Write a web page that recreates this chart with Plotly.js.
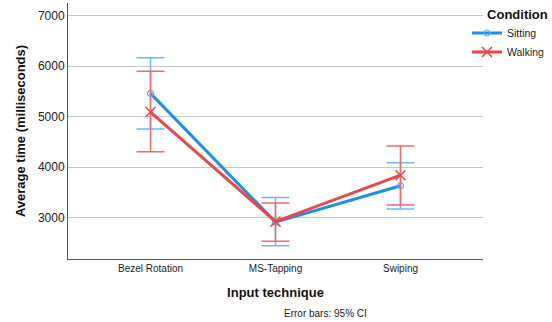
<!DOCTYPE html>
<html><head><meta charset="utf-8">
<script src="https://cdn.plot.ly/plotly-3.0.1.min.js"></script>
<style>body{margin:0;background:#fff}#c{width:552px;height:322px}</style>
</head><body><div id="c"></div>
<script>
const categories = ["Bezel Rotation", "MS-Tapping", "Swiping"];
const sittingMean = [5460, 2910, 3630];
const sittingUpper = [6165, 3400, 4085];
const sittingLower = [4755, 2440, 3170];
const walkingMean = [5090, 2920, 3840];
const walkingUpper = [5900, 3290, 4420];
const walkingLower = [4305, 2530, 3250];

function plus(u, m) { return u.map((v, i) => v - m[i]); }
function minus(l, m) { return l.map((v, i) => m[i] - v); }

const traces = [
  {
    x: categories, y: sittingMean, name: "Sitting", type: "scatter", mode: "lines+markers",
    line: {color: "#1e8ee6", width: 3},
    marker: {symbol: "circle-open", size: 6, color: "#5aaef0", line: {width: 1.2}},
    error_y: {type: "data", symmetric: false, array: plus(sittingUpper, sittingMean),
      arrayminus: minus(sittingLower, sittingMean), color: "#6ab9f2", thickness: 1.5, width: 14}
  },
  {
    x: categories, y: walkingMean, name: "Walking", type: "scatter", mode: "lines+markers",
    line: {color: "#e8474b", width: 3},
    marker: {symbol: "x-thin-open", size: 10, color: "#e8474b", line: {width: 1.5, color: "#e8474b"}},
    error_y: {type: "data", symmetric: false, array: plus(walkingUpper, walkingMean),
      arrayminus: minus(walkingLower, walkingMean), color: "#ef6a6d", thickness: 1.5, width: 14}
  }
];

const layout = {
  width: 552, height: 322,
  margin: {l: 68, r: 69, t: 3, b: 63, autoexpand: false},
  paper_bgcolor: "#fff", plot_bgcolor: "#fff",
  font: {family: "Liberation Sans, Arial, sans-serif", color: "#222"},
  showlegend: true,
  legend: {
    xref: "container", yref: "container",
    x: 0.846, y: 0.995, xanchor: "left", yanchor: "top",
    title: {text: "\u00a0\u00a0\u00a0\u00a0\u00a0<b>Condition</b>", font: {size: 13, color: "#111"}},
    font: {size: 10.5, color: "#222"}, tracegroupgap: 0, itemwidth: 30,
    bgcolor: "rgba(0,0,0,0)", borderwidth: 0
  },
  xaxis: {
    type: "category", range: [-0.66, 2.66],
    showgrid: false, zeroline: false,
    showline: true, linecolor: "#555", linewidth: 1,
    ticks: "", tickfont: {size: 10, color: "#222"},
    title: {text: "<b>Input technique</b>", font: {size: 13, color: "#111"}, standoff: 14}
  },
  yaxis: {
    range: [2180, 7250],
    tickvals: [3000, 4000, 5000, 6000, 7000],
    showgrid: true, gridcolor: "#c8c8c8", gridwidth: 1, zeroline: false,
    showline: true, linecolor: "#555", linewidth: 1,
    ticks: "", tickfont: {size: 12, color: "#222"},
    title: {text: "<b>Average time (milliseconds)</b>", font: {size: 13, color: "#111"}, standoff: 9}
  },
  annotations: [{
    text: "Error bars: 95% CI", xref: "paper", yref: "paper",
    x: 0.62, y: -0.211, xanchor: "center", yanchor: "middle",
    showarrow: false, font: {size: 10, color: "#222"}
  }]
};

Plotly.newPlot("c", traces, layout, {displayModeBar: false, staticPlot: true});
</script></body></html>
